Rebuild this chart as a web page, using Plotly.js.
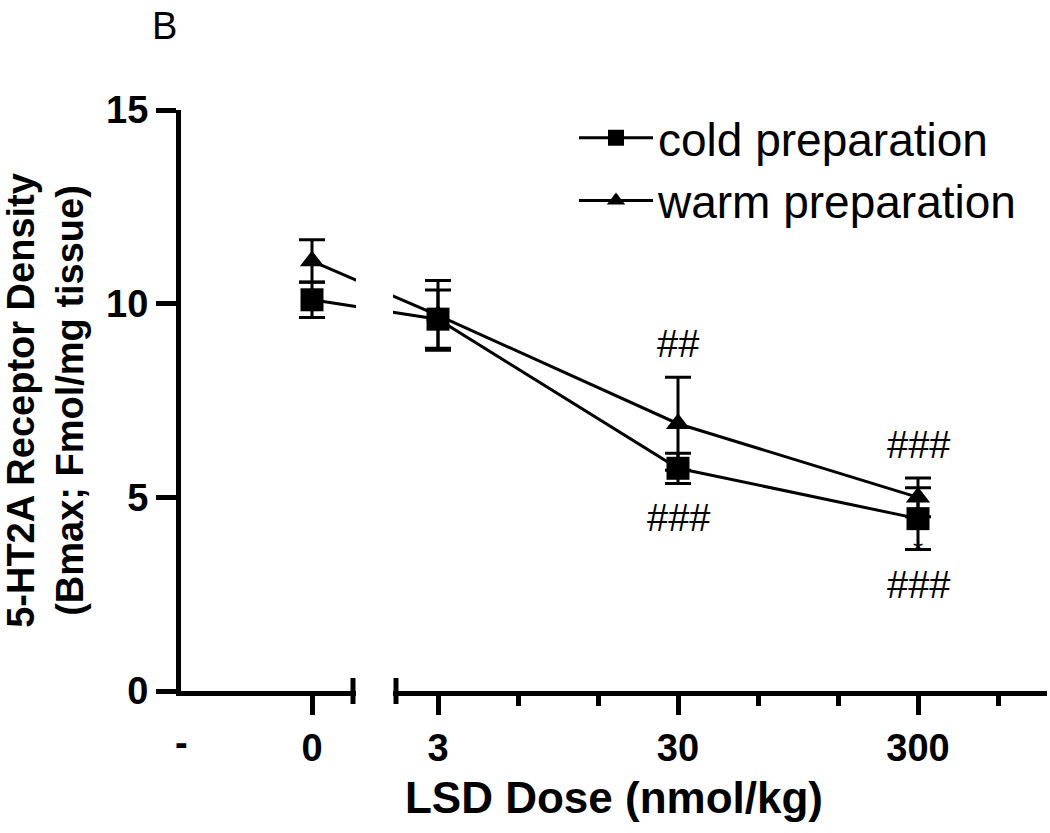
<!DOCTYPE html>
<html>
<head>
<meta charset="utf-8">
<script src="https://cdn.plot.ly/plotly-3.0.1.min.js"></script>
<style>
  html, body { margin: 0; padding: 0; background: #fff; }
  #chart { width: 1050px; height: 833px; }
</style>
</head>
<body>
<div id="chart"></div>
<script>
// ---- data ----
const doses = [0, 3, 30, 300];                 // nmol/kg
const doseLabels = ["0", "3", "30", "300"];
const controlLabel = "-";
const coldMean = [10.1, 9.6, 5.75, 4.45];      // Bmax, fmol/mg tissue
const coldSEM  = [0.46, 0.75, 0.39, 0.8];
const warmMean = [11.1, 9.7, 6.9, 5.0];
const warmSEM  = [0.55, 0.9, 1.2, 0.5];
const warmSigAbove = ["", "", "##", "###"];
const coldSigBelow = ["", "", "###", "###"];
const coldStar     = ["", "", "", "*"];
const seriesNames = ["cold preparation", "warm preparation"];
const yTicks = [0, 5, 10, 15];

// ---- layout geometry (pixels) ----
const W = 1050, H = 833;
const L = 181, R = 3, T = 110, B = 142;
const plotW = W - L - R, plotH = H - T - B;
const PX_PER_DECADE = 240;
const ZERO_GAP_PX = 126;          // distance of the "0" dose left of dose 3
const LEFT_OF_3_PX = 257;         // axis start left of dose 3
const SEG1_END_PX = 353, SEG2_START_PX = 396;

const log3 = Math.log10(3);
const XMIN = log3 - LEFT_OF_3_PX / PX_PER_DECADE;
const XMAX = XMIN + plotW / PX_PER_DECADE;
const ZERO_POS = log3 - ZERO_GAP_PX / PX_PER_DECADE;
const xpos = d => d === 0 ? ZERO_POS : Math.log10(d);
const xs = doses.map(xpos);

// minor ticks every third of a decade on the log segment
const minorVals = [];
for (let k = 1; log3 + k / 3 <= XMAX; k++) {
  if (k % 3 !== 0) minorVals.push(log3 + k / 3);
}

const FONT = "Liberation Sans, Arial, Helvetica, sans-serif";
const black = "#000";

function trace(name, ys, err, symbol, size) {
  return {
    type: "scatter", mode: "lines+markers", name: name,
    x: xs, y: ys,
    line: { color: black, width: 3 },
    marker: { symbol: symbol, size: size, color: black },
    error_y: { type: "data", array: err, visible: true, color: black, thickness: 3, width: 13 },
    cliponaxis: false
  };
}

const data = [
  trace(seriesNames[0], coldMean, coldSEM, "square", 23),
  trace(seriesNames[1], warmMean, warmSEM, "triangle-up", 21)
];

const px2paperX = p => (p - L) / plotW;
const px2paperY = p => (T + plotH - p) / plotH;
const capHalf = 13 / plotH;

const shapes = [
  // white band that makes the axis break (also cuts the 0→3 lines)
  { type: "rect", xref: "paper", yref: "paper",
    x0: px2paperX(SEG1_END_PX + 3), x1: px2paperX(SEG2_START_PX - 3),
    y0: -0.012, y1: 1.0, fillcolor: "#fff", line: { width: 0 }, layer: "above" },
  // end caps of the two axis segments
  { type: "line", xref: "paper", yref: "paper",
    x0: px2paperX(SEG1_END_PX), x1: px2paperX(SEG1_END_PX), y0: -capHalf, y1: capHalf,
    line: { color: black, width: 5 }, layer: "above" },
  { type: "line", xref: "paper", yref: "paper",
    x0: px2paperX(SEG2_START_PX), x1: px2paperX(SEG2_START_PX), y0: -capHalf, y1: capHalf,
    line: { color: black, width: 5 }, layer: "above" }
];

const annotations = [];
const sigFont = { family: FONT, size: 38, color: black };
doses.forEach((d, i) => {
  if (warmSigAbove[i]) annotations.push({ x: xs[i], y: warmMean[i] + warmSEM[i], xref: "x", yref: "y",
    text: warmSigAbove[i], showarrow: false, yshift: 33, font: sigFont });
  if (coldSigBelow[i]) annotations.push({ x: xs[i], y: coldMean[i] - coldSEM[i], xref: "x", yref: "y",
    text: coldSigBelow[i], showarrow: false, yshift: -35, font: sigFont });
  if (coldStar[i]) annotations.push({ x: xs[i], y: coldMean[i] - coldSEM[i], xref: "x", yref: "y",
    text: coldStar[i], showarrow: false, yshift: 0, font: { family: FONT, size: 26, color: black } });
});
// control label under the y axis
annotations.push({ x: XMIN, y: 0, xref: "x", yref: "y", text: "<b>" + controlLabel + "</b>",
  showarrow: false, yshift: -52, font: { family: FONT, size: 38, color: black } });
// panel letter
annotations.push({ x: px2paperX(164), y: px2paperY(26), xref: "paper", yref: "paper",
  xanchor: "center", yanchor: "middle",
  text: "B", showarrow: false, font: { family: FONT, size: 38, color: black } });

const layout = {
  width: W, height: H,
  margin: { l: L, r: R, t: T, b: B },
  paper_bgcolor: "#fff", plot_bgcolor: "#fff",
  font: { family: FONT, color: black },
  showlegend: true,
  legend: { x: px2paperX(574), y: 1.015, xanchor: "left", yanchor: "top",
    bgcolor: "rgba(0,0,0,0)", itemwidth: 74, font: { family: FONT, size: 46, color: black } },
  xaxis: {
    range: [XMIN, XMAX], showgrid: false, zeroline: false,
    showline: true, linecolor: black, linewidth: 5,
    tickmode: "array", tickvals: xs, ticktext: doseLabels.map(s => "<b>" + s + "</b>"),
    ticks: "outside", ticklen: 19, tickwidth: 5, tickcolor: black,
    tickfont: { family: FONT, size: 38, color: black },
    minor: { tickmode: "array", tickvals: minorVals, ticks: "outside", ticklen: 10, tickwidth: 5, tickcolor: black, showgrid: false },
    title: { text: "<b>LSD Dose (nmol/kg)</b>", font: { family: FONT, size: 44, color: black }, standoff: 16 }
  },
  yaxis: {
    range: [0, 15], showgrid: false, zeroline: false,
    showline: true, linecolor: black, linewidth: 5,
    tickmode: "array", tickvals: yTicks, ticktext: yTicks.map(v => "<b>" + v + "</b>"),
    ticks: "outside", ticklen: 20, tickwidth: 5, tickcolor: black,
    tickfont: { family: FONT, size: 38, color: black },
    title: { text: "<b>5-HT2A Receptor Density<br>(Bmax; Fmol/mg tissue)</b>",
      font: { family: FONT, size: 38, color: black }, standoff: 24 }
  },
  shapes: shapes,
  annotations: annotations
};

Plotly.newPlot("chart", data, layout, { displayModeBar: false, staticPlot: true });
</script>
</body>
</html>
